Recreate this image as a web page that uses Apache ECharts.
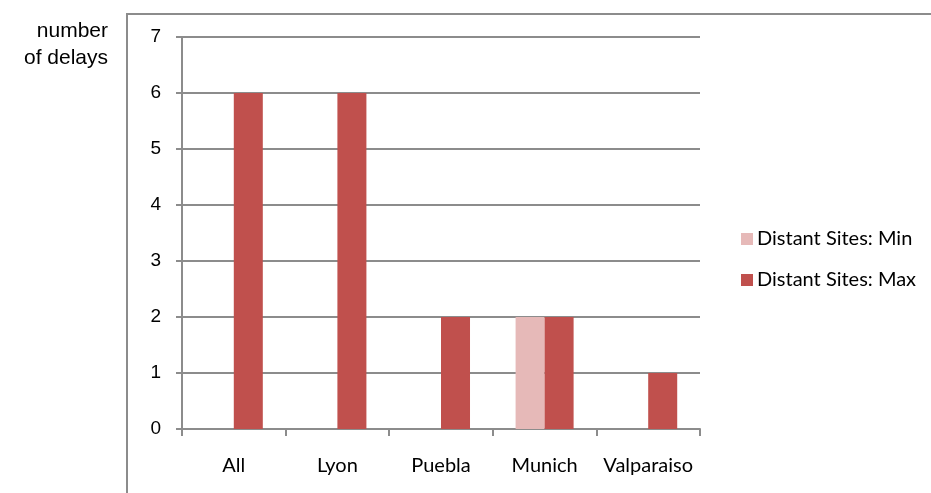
<!DOCTYPE html>
<html><head><meta charset="utf-8">
<script src="https://cdn.jsdelivr.net/npm/echarts@6/dist/echarts.min.js"></script>
<style>html,body{margin:0;padding:0;background:#fff;}#c{width:931px;height:493px;}</style>
</head><body><div id="c"></div>
<script>
const categories = ['All', 'Lyon', 'Puebla', 'Munich', 'Valparaiso'];
const minValues = [null, null, null, 2, null];
const maxValues = [6, 6, 2, 2, 1];
const seriesNames = ['Distant Sites: Min', 'Distant Sites: Max'];
const yTitle = 'number\nof delays';

const chart = echarts.init(document.getElementById('c'), null, {renderer: 'canvas'});
const gray = '#8c8c8c';
chart.setOption({
  animation: false,
  backgroundColor: '#fff',
  grid: {left: 182, right: 231, top: 37, bottom: 64, containLabel: false},
  legend: {
    orient: 'vertical', left: 736, top: 224, itemWidth: 12, itemHeight: 12, itemGap: 21,
    icon: 'rect',
    textStyle: {fontFamily: 'Lato', fontSize: 20, color: '#000', padding: [0,0,0,-1]},
    data: seriesNames
  },
  graphic: [
    {type: 'polyline', shape: {points: [[127, 493], [127, 14], [931, 14]]}, style: {stroke: gray, lineWidth: 2, fill: null}},
    {type: 'text', x: 108, y: 18, style: {text: yTitle, font: '21px "Liberation Sans"', fill: '#000', align: 'right', verticalAlign: 'top', lineHeight: 27}}
  ],
  xAxis: {
    type: 'category', data: categories,
    axisLine: {lineStyle: {color: gray, width: 2}},
    axisTick: {show: true, interval: 0, length: 7, alignWithLabel: false, lineStyle: {color: gray, width: 2}},
    axisLabel: {interval: 0, color: '#000', fontFamily: 'Lato', fontSize: 20, margin: 27, hideOverlap: false}
  },
  yAxis: {
    type: 'value', min: 0, max: 7, interval: 1,
    axisLine: {show: true, lineStyle: {color: gray, width: 2}},
    axisTick: {show: true, length: 6, lineStyle: {color: gray, width: 2}},
    axisLabel: {color: '#000', fontFamily: 'Liberation Sans', fontSize: 19, margin: 21},
    splitLine: {lineStyle: {color: gray, width: 2}}
  },
  series: [
    {name: seriesNames[0], type: 'bar', data: minValues, itemStyle: {color: '#E6B9B8'}, barGap: '0%', barCategoryGap: '44%'},
    {name: seriesNames[1], type: 'bar', data: maxValues, itemStyle: {color: '#C0504D'}, barGap: '0%', barCategoryGap: '44%'}
  ]
});
</script></body></html>
